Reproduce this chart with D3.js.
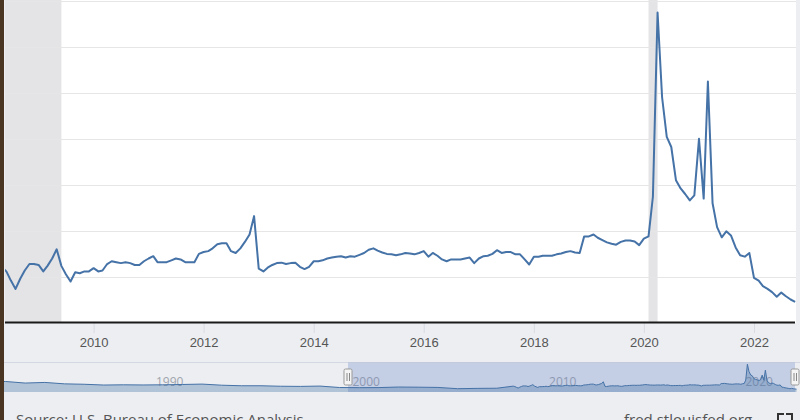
<!DOCTYPE html>
<html>
<head>
<meta charset="utf-8">
<script src="https://cdn.jsdelivr.net/npm/d3@7"></script>
<style>
  html, body { margin: 0; padding: 0; background: #eceef2; }
  svg { display: block; font-family: "Open Sans", "DejaVu Sans", sans-serif; }
</style>
</head>
<body>
<svg id="chart" width="800" height="420"></svg>
<script>
// ---- Data: Personal saving rate (%), monthly ----
const startYear = 2008, startMonth = 4; // May 2008 (0-based month)
const values2008 = [6.1, 5.6, 4.6, 3.7, 4.8, 5.7, 6.4, 6.4];
const values2009 = [6.3, 5.6, 6.2, 7.0, 8.0, 6.2, 5.3, 4.5, 5.5, 5.4, 5.6, 5.6];
const values2010 = [5.95, 5.6, 5.7, 6.4, 6.7, 6.6, 6.5, 6.6, 6.5, 6.3, 6.3, 6.7];
const values2011 = [7.0, 7.25, 6.6, 6.6, 6.6, 6.8, 7.0, 6.9, 6.6, 6.6, 6.6, 7.5];
const values2012 = [7.7, 7.8, 8.1, 8.55, 8.65, 8.65, 7.8, 7.6, 8.1, 8.8, 9.6, 11.6];
const values2013 = [5.9, 5.6, 6.0, 6.3, 6.5, 6.55, 6.4, 6.5, 6.55, 6.1, 5.85, 6.1];
const values2014 = [6.7, 6.7, 6.8, 7.0, 7.1, 7.2, 7.25, 7.1, 7.25, 7.2, 7.4, 7.6];
const values2015 = [7.95, 8.1, 7.85, 7.65, 7.5, 7.45, 7.35, 7.45, 7.6, 7.55, 7.45, 7.6];
const values2016 = [7.8, 7.2, 7.6, 7.3, 6.9, 6.7, 6.9, 6.9, 6.9, 7.0, 7.1, 6.5];
const values2017 = [7.0, 7.25, 7.3, 7.5, 7.9, 7.6, 7.7, 7.7, 7.45, 7.45, 6.9, 6.35];
const values2018 = [7.2, 7.2, 7.3, 7.3, 7.3, 7.45, 7.55, 7.7, 7.8, 7.65, 7.6, 9.4];
const values2019 = [9.4, 9.6, 9.25, 9.0, 8.75, 8.6, 8.5, 8.8, 8.95, 8.95, 8.85, 8.45];
const values2020 = [9.15, 9.4, 13.7, 33.7, 24.5, 20.2, 19.1, 15.5, 14.6, 14.0, 13.3, 13.85];
const values2021 = [20.0, 13.5, 26.2, 13.0, 10.4, 9.3, 9.95, 9.5, 8.2, 7.35, 7.2, 7.6];
const values2022 = [4.9, 4.6, 4.0, 3.7, 3.35, 2.85, 3.3, 2.9, 2.55, 2.3];

// Navigator history (annual, mid-year), estimated from the small overview strip
const navYears  = [1981, 1982, 1983, 1984, 1985, 1986, 1987, 1988, 1989, 1990, 1991, 1992, 1993, 1994,
                   1995, 1996, 1997, 1998, 1999, 2000, 2001, 2002, 2003, 2004, 2005, 2006, 2007];
const navValues = [11.8, 12.0, 10.0, 10.8, 9.0, 8.5, 7.5, 7.8, 7.6, 7.8, 8.2, 8.7, 7.3, 6.6,
                   6.6, 6.0, 5.8, 6.2, 4.4, 4.2, 4.3, 5.0, 4.8, 4.5, 2.9, 3.3, 3.5];

// Recessions
const recessions = [["2007-12-01", "2009-06-01"], ["2020-02-01", "2020-04-01"]];
const xTickYears = [2010, 2012, 2014, 2016, 2018, 2020, 2022];
const navTickYears = [1990, 2000, 2010, 2020];
const yGrid = [5, 10, 15, 20, 25, 30, 35];
const sourceText = "Source: U.S. Bureau of Economic Analysis";
const fredText = "fred.stlouisfed.org";

// ---- Build series ----
const allMonthly = [].concat(values2008, values2009, values2010, values2011, values2012, values2013,
  values2014, values2015, values2016, values2017, values2018, values2019, values2020, values2021, values2022);
const series = allMonthly.map((v, i) => ({ date: new Date(Date.UTC(startYear, startMonth + i, 1)), value: v }));
const navSeries = navYears.map((y, i) => ({ date: new Date(Date.UTC(y, 6, 1)), value: navValues[i] }))
  .concat(series);

const svg = d3.select("#chart");
const W = 800, H = 420;
const plot = { left: 5, right: 796, top: 0, bottom: 323 };

// Scales
const x = d3.scaleUtc()
  .domain([new Date(Date.UTC(2010, 0, 1)), new Date(Date.UTC(2022, 0, 1))])
  .range([93.6, 754]);
const y = d3.scaleLinear().domain([0, 35]).range([plot.bottom, 0.5]);

// Background
svg.append("rect").attr("width", W).attr("height", H).attr("fill", "#eceef2");
svg.append("rect").attr("x", plot.left).attr("y", 0)
  .attr("width", plot.right - plot.left).attr("height", plot.bottom)
  .attr("fill", "#ffffff");

svg.append("clipPath").attr("id", "clip").append("rect")
  .attr("x", plot.left).attr("y", 0).attr("width", plot.right - plot.left).attr("height", plot.bottom);

const g = svg.append("g").attr("clip-path", "url(#clip)");

// Recession shading
g.selectAll("rect.rec").data(recessions).join("rect")
  .attr("class", "rec")
  .attr("x", d => x(new Date(d[0] + "T00:00:00Z")))
  .attr("width", d => x(new Date(d[1] + "T00:00:00Z")) - x(new Date(d[0] + "T00:00:00Z")))
  .attr("y", 0).attr("height", plot.bottom)
  .attr("fill", "#e4e4e6");

// Grid lines
g.selectAll("line.grid").data(yGrid).join("line")
  .attr("class", "grid")
  .attr("x1", plot.left).attr("x2", plot.right)
  .attr("y1", d => Math.round(y(d)) + 0.5).attr("y2", d => Math.round(y(d)) + 0.5)
  .attr("stroke", "#e6e6e6").attr("stroke-width", 1);

// Line
const line = d3.line().x(d => x(d.date)).y(d => y(d.value));
g.append("path").datum(series)
  .attr("d", line)
  .attr("fill", "none")
  .attr("stroke", "#4572a7")
  .attr("stroke-width", 2)
  .attr("stroke-linejoin", "round");

// X axis
const xAxis = d3.axisBottom(x)
  .tickValues(xTickYears.map(yr => new Date(Date.UTC(yr, 0, 1))))
  .tickFormat(d3.utcFormat("%Y"))
  .tickSize(10)
  .tickSizeOuter(0);
const ax = svg.append("g").attr("transform", `translate(0,${plot.bottom})`).call(xAxis);
ax.select(".domain").remove();
ax.selectAll(".tick line").attr("stroke", "#d8dbe2").attr("stroke-width", 1);
ax.selectAll(".tick text")
  .attr("y", 23.5).attr("dy", 0)
  .attr("fill", "#555")
  .style("font-size", "13px");
svg.append("line")
  .attr("x1", plot.left).attr("x2", plot.right - 1)
  .attr("y1", plot.bottom - 0.5).attr("y2", plot.bottom - 0.5)
  .attr("stroke", "#1a1a1a").attr("stroke-width", 2);

// ---- Navigator ----
const nav = { top: 362.5, bottom: 392 };
const nx = d3.scaleUtc()
  .domain([new Date(Date.UTC(1990, 0, 1)), new Date(Date.UTC(2020, 0, 1))])
  .range([153, 742.5]);
const ny = d3.scaleLinear().domain([0, 34]).range([nav.bottom - 1, nav.top + 1.5]);

const navG = svg.append("g");
navG.append("line").attr("x1", 0).attr("x2", W)
  .attr("y1", nav.top).attr("y2", nav.top)
  .attr("stroke", "#d3d8e2");

// labels
navG.selectAll("text.navlab").data(navTickYears).join("text")
  .attr("class", "navlab")
  .attr("x", d => nx(new Date(Date.UTC(d, 0, 1))) + 3)
  .attr("y", 385.5)
  .attr("fill", "#a0a4ac")
  .style("font-size", "12px")
  .text(d => d);

// selected mask
const selStart = 348, selEnd = 795;
navG.append("rect")
  .attr("x", selStart).attr("y", nav.top)
  .attr("width", selEnd - selStart).attr("height", nav.bottom - nav.top)
  .attr("fill", "rgba(102,133,194,0.3)");

// navigator series
const navArea = d3.area().x(d => nx(d.date)).y0(nav.bottom).y1(d => ny(d.value));
const navLine = d3.line().x(d => nx(d.date)).y(d => ny(d.value));
navG.append("path").datum(navSeries).attr("d", navArea)
  .attr("fill", "#4572a7").attr("fill-opacity", 0.35);
navG.append("path").datum(navSeries).attr("d", navLine)
  .attr("fill", "none").attr("stroke", "#4572a7").attr("stroke-width", 1);

// handles
function handle(cx) {
  const hg = navG.append("g").attr("transform", `translate(${cx},377)`);
  hg.append("rect").attr("x", -4).attr("y", -8).attr("width", 8).attr("height", 16)
    .attr("rx", 1.5).attr("fill", "#f4f4f4").attr("stroke", "#999").attr("stroke-width", 1);
  hg.append("line").attr("x1", -1).attr("x2", -1).attr("y1", -4).attr("y2", 4).attr("stroke", "#888");
  hg.append("line").attr("x1", 1.5).attr("x2", 1.5).attr("y1", -4).attr("y2", 4).attr("stroke", "#888");
}
handle(selStart);
handle(selEnd);

// Footer texts
svg.append("text").attr("x", 16).attr("y", 425)
  .attr("fill", "#555").style("font-size", "15px").text(sourceText);
svg.append("text").attr("x", 624).attr("y", 425)
  .attr("fill", "#555").style("font-size", "15px").text(fredText);
// fullscreen icon corners
const icon = svg.append("g").attr("fill", "none").attr("stroke", "#333").attr("stroke-width", 2);
icon.append("path").attr("d", "M778,420 V414 H784");
icon.append("path").attr("d", "M786,414 H792 V420");

// Left dark edge from the photographed frame
svg.append("rect").attr("x", 0).attr("y", 0).attr("width", 4).attr("height", H).attr("fill", "#4a3422");
</script>
</body>
</html>
